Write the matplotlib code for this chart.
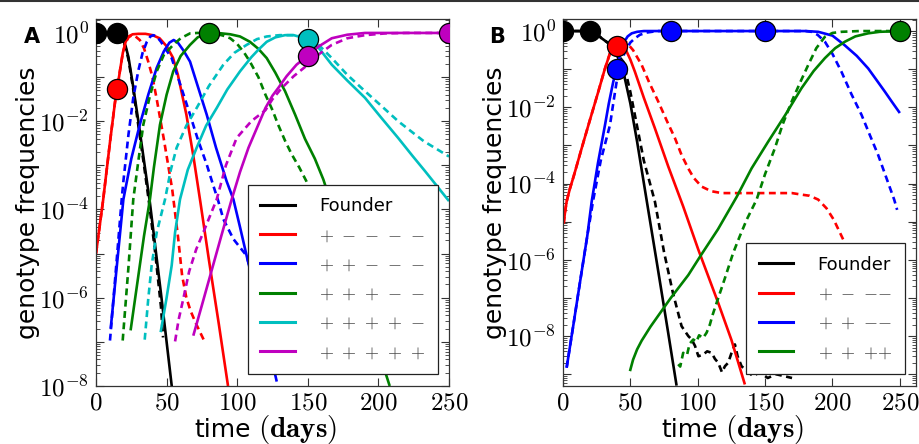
import numpy as np
import matplotlib
matplotlib.use("Agg")
import matplotlib.pyplot as plt
from matplotlib.ticker import LogLocator, FuncFormatter, NullFormatter, MultipleLocator
from matplotlib.lines import Line2D

plt.rcParams["mathtext.fontset"] = "cm"

# ---- panel A : five-locus model (log10 of genotype frequency) ----
a_founder_t = [0, 10, 15, 17, 19, 21, 23, 26, 30, 34, 38, 42, 46, 50, 54]
a_founder = [0, 0, -0.01, -0.05, -0.15, -0.3, -0.55, -1.15, -2.0, -2.9, -3.8, -4.85, -5.9, -7.0, -8.1]
a_founder_d_t = [0, 10, 15, 17, 19, 21, 23, 26, 30, 34, 38, 42, 46, 47.5]
a_founder_d = [0, 0, -0.01, -0.05, -0.16, -0.34, -0.6, -1.2, -2.1, -3.0, -3.95, -5.0, -6.2, -6.9]

a_red_t = [0, 5, 10, 13.5, 15, 17, 19, 21, 23, 26, 30, 35, 40, 45, 50, 54.5, 58, 64, 69, 74, 80, 87, 93.5]
a_red = [-5.0, -3.8, -2.45, -1.56, -1.27, -0.85, -0.45, -0.2, -0.08, -0.03, -0.02, -0.02, -0.05,
         -0.12, -0.3, -0.56, -0.95, -1.85, -2.8, -3.85, -5.15, -6.6, -8.0]
a_red_d_t = [0, 5, 10, 13.5, 15, 17, 19, 21, 23, 25, 28, 31, 34, 37, 40, 43, 48, 54, 58, 61, 64, 67, 71, 74, 77]
a_red_d = [-5.0, -3.8, -2.45, -1.56, -1.27, -0.85, -0.45, -0.22, -0.1, -0.06, -0.08, -0.16, -0.35,
           -0.65, -1.0, -1.5, -2.4, -3.55, -4.6, -5.5, -6.0, -6.3, -6.6, -6.8, -7.0]

a_blue_t = [10.4, 15, 19.4, 25, 31, 37, 43, 48, 52, 55, 58, 62, 66.6, 72, 78.4, 85, 92.5, 97.3,
            102, 106.7, 115, 122, 128]
a_blue = [-6.7, -5.2, -3.77, -2.85, -2.08, -1.4, -0.79, -0.42, -0.22, -0.16, -0.22, -0.4, -0.65,
          -1.2, -1.85, -2.6, -3.36, -3.77, -4.4, -5.05, -6.15, -7.05, -7.9]
a_blue_d_t = [9.9, 14, 18.2, 19.4, 23, 26.4, 30, 33, 36, 38.5, 40.6, 43, 46, 50, 53.6, 60, 66.6,
              72, 78.4, 83, 86.6, 90.2, 97.3, 106.7, 112]
a_blue_d = [-6.97, -5.4, -3.77, -3.36, -2.3, -1.47, -0.85, -0.45, -0.2, -0.08, -0.05, -0.08, -0.2,
            -0.4, -0.57, -1.2, -1.85, -2.4, -2.98, -3.45, -3.81, -4.22, -4.67, -5.05, -5.7]

a_green_t = [24.5, 30, 34, 38.2, 41, 45.3, 50, 54.7, 60, 66.6, 72, 79.5, 86, 95, 102, 109, 115,
             120.9, 127, 133.9, 141, 148, 155, 161, 170, 180, 190, 200, 208]
a_green = [-6.74, -5.5, -4.6, -3.77, -3.05, -2.08, -1.4, -0.87, -0.52, -0.27, -0.1, 0.0, 0.0,
           -0.03, -0.08, -0.2, -0.36, -0.57, -0.9, -1.32, -1.85, -2.4, -2.85, -3.32, -4.2, -5.2,
           -6.2, -7.2, -8.0]
a_green_d_t = [18.9, 23, 26.4, 30, 33.5, 38, 43, 48, 54.7, 60, 66.6, 72, 78, 85, 90, 95, 100, 105,
               109, 115, 120, 125, 129, 134, 138.6, 144, 149, 160, 170]
a_green_d = [-6.97, -5.3, -3.77, -2.9, -2.08, -1.45, -0.87, -0.5, -0.27, -0.12, -0.01, 0.0, 0.0,
             -0.02, -0.06, -0.12, -0.25, -0.45, -0.65, -1.0, -1.4, -1.75, -2.08, -2.45, -2.75,
             -3.05, -3.36, -4.2, -5.0]

a_cyan_t = [45.8, 50, 53.6, 56, 59.5, 65, 71.3, 78, 85.5, 93, 102, 110, 115, 120.9, 127, 133.9,
            140, 150, 158, 167, 178, 190.5, 202, 214, 224, 233, 241, 250]
a_cyan = [-6.78, -6.0, -5.27, -4.52, -3.77, -3.1, -2.6, -2.1, -1.7, -1.28, -0.87, -0.55, -0.38,
          -0.2, -0.1, -0.05, -0.05, -0.14, -0.35, -0.72, -1.08, -1.47, -1.92, -2.38, -2.78,
          -3.13, -3.45, -3.81]
a_cyan_d_t = [34.5, 37, 39.4, 43, 48.9, 53, 57.1, 64, 71.3, 80, 90.2, 98, 106.7, 114, 120.9, 130,
              140, 150, 158, 167, 178, 190.5, 202, 214, 232, 250]
a_cyan_d = [-6.95, -6.03, -5.27, -4.52, -3.77, -3.1, -2.6, -2.1, -1.7, -1.2, -0.72, -0.45, -0.27,
            -0.14, -0.08, -0.05, -0.05, -0.1, -0.28, -0.57, -0.95, -1.32, -1.65, -2.0, -2.45, -2.8]

a_mag_t = [68.9, 75, 82, 89, 96.1, 102, 108, 114, 120, 125, 129, 135, 142, 150, 158, 167, 178,
           190.5, 205, 220, 250]
a_mag = [-6.86, -6.17, -5.37, -4.57, -3.77, -3.15, -2.6, -2.15, -1.7, -1.42, -1.25, -0.98, -0.72,
         -0.51, -0.3, -0.12, -0.04, 0.0, 0.0, 0.0, 0.0]
a_mag_d_t = [56, 58.5, 61.8, 66, 71, 76, 85.5, 92, 99.6, 110, 120, 125, 131.5, 140, 150, 158, 167,
             178, 190.5, 205, 220, 250]
a_mag_d = [-6.99, -6.5, -6.03, -5.4, -4.9, -4.52, -3.77, -3.0, -2.38, -2.0, -1.75, -1.5, -1.25,
           -0.98, -0.72, -0.48, -0.27, -0.12, -0.05, -0.01, 0.0, 0.0]

a_dot_t = [0, 15, 15, 80, 150, 150, 250]
a_dot = [0, 0, -1.27, 0, -0.14, -0.53, 0]
a_dot_colors = ["k", "k", "r", "g", "c", "m", "m"]

a_labels = ["Founder", r"$+\;\;{-}\;\;{-}\;\;{-}\;\;{-}$", r"$+\;\;{+}\;\;{-}\;\;{-}\;\;{-}$",
            r"$+\;\;{+}\;\;{+}\;\;{-}\;\;{-}$", r"$+\;\;{+}\;\;{+}\;\;{+}\;\;{-}$",
            r"$+\;\;{+}\;\;{+}\;\;{+}\;\;{+}$"]

# ---- panel B : four-locus model ----
b_founder_t = [0, 10, 20, 25, 28.7, 33, 37.3, 40, 45, 50, 55, 62, 70, 78, 84.3]
b_founder = [0, 0, 0, -0.08, -0.19, -0.3, -0.45, -0.62, -1.1, -1.9, -2.9, -4.42, -6.15, -7.9, -9.3]
b_founder_d_t = [0, 10, 20, 25, 28.7, 33, 37.3, 40, 44.7, 50, 55, 60, 68.2, 75, 81.6, 88, 93, 95.5,
                 98, 100.5, 104.2, 107, 110.3, 112.8, 115.2, 118, 120.2, 122.6, 125, 127.6, 129.6,
                 132.5, 136, 141, 146, 152, 158, 164, 170]
b_founder_d = [0, 0, 0, -0.08, -0.19, -0.3, -0.45, -0.6, -0.8, -1.6, -2.5, -3.4, -4.47, -5.8, -6.87,
               -7.74, -8.0, -8.09, -8.26, -8.53, -8.48, -8.4, -8.44, -8.6, -8.7, -8.95, -8.79,
               -8.7, -8.45, -8.22, -8.53, -8.79, -8.9, -9.05, -8.95, -9.1, -9.0, -9.05, -9.1]

b_red_t = [0.5, 1.5, 2.7, 5, 8, 13.9, 20, 26.2, 31, 34.9, 38, 40, 43.5, 47, 50, 53.4, 60, 68.2,
           78.1, 89.2, 100.4, 115.2, 125, 135]
b_red = [-5.05, -4.75, -4.47, -4.15, -3.8, -3.07, -2.33, -1.59, -1.0, -0.58, -0.42, -0.38, -0.37,
         -0.52, -0.75, -1.07, -1.75, -2.55, -3.55, -4.6, -5.73, -7.13, -8.1, -9.27]
b_red_d_t = [0.5, 1.5, 2.7, 5, 8, 13.9, 20, 26.2, 31, 34.9, 38, 41, 44, 47.2, 52, 58.4, 64, 70.7,
             77, 83.1, 88, 92.9, 97, 102.9, 110, 117.7, 130, 150, 170, 177, 183, 189.4, 195.6,
             201, 208]
b_red_d = [-5.05, -4.75, -4.47, -4.15, -3.8, -3.07, -2.33, -1.59, -1.0, -0.58, -0.4, -0.3, -0.26,
           -0.3, -0.5, -0.89, -1.35, -1.85, -2.35, -2.81, -3.25, -3.6, -3.85, -4.08, -4.2, -4.25,
           -4.25, -4.25, -4.25, -4.29, -4.32, -4.42, -4.65, -4.95, -5.47]

b_blue_t = [2.7, 8, 13, 18, 21.3, 26, 31.2, 34, 37.3, 39.8, 41.5, 43.5, 46, 48, 51, 55, 60, 80,
            150, 180, 189.4, 200, 209, 218, 226.5, 232, 238.9, 244, 250]
b_blue = [-8.83, -7.64, -6.5, -5.38, -4.47, -3.45, -2.46, -1.9, -1.33, -0.99, -0.75, -0.45, -0.25,
          -0.14, -0.06, -0.02, 0, 0, 0, 0, -0.02, -0.12, -0.37, -0.65, -0.98, -1.25, -1.59,
          -1.85, -2.15]
b_blue_d_t = [2.7, 8, 13, 18, 22.5, 28, 34.9, 37.5, 39.8, 42.5, 46, 50, 53.4, 57, 62, 70, 150,
              180, 184.5, 189, 194.4, 200, 206.7, 214, 221.6, 228, 233.9, 240, 245.8, 248]
b_blue_d = [-8.83, -7.64, -6.5, -5.38, -4.42, -3.4, -2.46, -1.85, -1.33, -0.9, -0.54, -0.3, -0.19,
            -0.1, -0.04, 0, 0, 0, -0.02, -0.1, -0.28, -0.6, -1.07, -1.65, -2.2, -2.75, -3.25,
            -3.85, -4.42, -4.69]

b_green_t = [49.7, 52, 55, 58.4, 65, 72, 80, 93, 102, 115, 128.9, 140, 152.3, 165, 177, 186,
             194.4, 202, 209.2, 217, 226.5, 235, 250]
b_green = [-8.92, -8.62, -8.35, -8.12, -7.75, -7.4, -7.0, -6.4, -5.9, -5.2, -4.35, -3.6, -2.9,
           -2.2, -1.5, -1.05, -0.71, -0.45, -0.28, -0.14, -0.06, -0.02, 0.0]
b_green_d_t = [85.5, 87, 89.2, 92, 94, 96.7, 99, 101, 104, 106.6, 109, 111, 114, 120, 126.3, 131,
               136.3, 143.7, 150, 157.3, 163, 169.7, 176, 182, 188, 194.4, 200, 206.7, 220, 250]
b_green_d = [-8.74, -8.8, -8.44, -8.5, -8.2, -8.09, -8.15, -7.98, -8.05, -7.91, -7.7, -7.45, -7.13,
             -6.5, -5.82, -5.4, -4.95, -4.42, -3.75, -3.07, -2.45, -1.85, -1.35, -0.89, -0.45,
             -0.15, -0.05, -0.02, 0, 0]

b_dot_t = [0, 20, 40, 40, 80, 150, 250]
b_dot = [0, 0, -0.39, -0.99, 0, 0, 0]
b_dot_colors = ["k", "k", "r", "b", "b", "b", "g"]

b_labels = ["Founder", r"$+\;\;{-}\;\;{-}{-}$", r"$+\;\;{+}\;\;{-}{-}$", r"$+\;\;{+}\;\;{+}{+}$"]

DASH = (0, (2.6, 1.7))
LW = 1.9


def curve(ax, t, logf, color, dashed=False):
    ax.plot(t, np.power(10.0, logf), color=color, lw=LW, ls=DASH if dashed else "-",
            solid_capstyle="butt")


def style(ax, xmax, ymin, labels, colors):
    ax.set_yscale("log")
    ax.set_xlim(0, xmax)
    ax.set_ylim(ymin, 2.07)
    ax.xaxis.set_major_locator(MultipleLocator(50))
    ax.xaxis.set_major_formatter(FuncFormatter(lambda v, p: r"$%d$" % v))
    ax.yaxis.set_major_locator(LogLocator(base=10, numticks=20))
    ax.yaxis.set_minor_locator(LogLocator(base=10, subs=np.arange(2, 10), numticks=20))
    ax.yaxis.set_minor_formatter(NullFormatter())
    ax.yaxis.set_major_formatter(FuncFormatter(
        lambda v, p: r"$10^{%d}$" % round(np.log10(v)) if round(np.log10(v)) % 2 == 0 else ""))
    ax.tick_params(which="both", direction="in", top=True, right=True, labelsize=18, pad=5,
                   color="#333333")
    ax.tick_params(axis="x", pad=3)
    ax.tick_params(which="major", length=6, width=0.8)
    ax.tick_params(which="minor", length=3, width=0.6)
    for s in ax.spines.values():
        s.set_color("#333333")
        s.set_linewidth(0.9)
    # x label: sans "time" followed by a larger serif "(days)"
    ax.text(0.438, -0.138, "time", transform=ax.transAxes, fontsize=18, ha="right",
            va="baseline")
    ax.text(0.458, -0.138, r"$\mathbf{(days)}$", transform=ax.transAxes, fontsize=21,
            ha="left", va="baseline")
    ax.set_ylabel("genotype frequencies", fontsize=18)
    ax.yaxis.set_label_coords(-0.158, 0.5)
    handles = [Line2D([], [], color=c, lw=2.2) for c in colors]
    leg = ax.legend(handles, labels, loc="lower right", bbox_to_anchor=(0.969, 0.033),
                    borderaxespad=0, fontsize=13, frameon=True, fancybox=False,
                    framealpha=1, edgecolor="#222222", handlelength=1.9, handletextpad=1.35,
                    labelspacing=0.62, borderpad=0.7)
    leg.get_frame().set_linewidth(0.9)
    for txt in leg.get_texts()[1:]:
        txt.set_color("#444444")


fig = plt.figure(figsize=(9.19, 4.44), dpi=100)
axA = fig.add_axes([96 / 919, 58 / 444, 353 / 919, 367 / 444])
axB = fig.add_axes([563 / 919, 58 / 444, 353 / 919, 367 / 444])

# panel A
curve(axA, a_founder_t, a_founder, "k")
curve(axA, a_founder_d_t, a_founder_d, "k", True)
curve(axA, a_red_t, a_red, "r")
curve(axA, a_red_d_t, a_red_d, "r", True)
curve(axA, a_blue_t, a_blue, "b")
curve(axA, a_blue_d_t, a_blue_d, "b", True)
curve(axA, a_green_t, a_green, "g")
curve(axA, a_green_d_t, a_green_d, "g", True)
curve(axA, a_cyan_t, a_cyan, "c")
curve(axA, a_cyan_d_t, a_cyan_d, "c", True)
curve(axA, a_mag_t, a_mag, "m")
curve(axA, a_mag_d_t, a_mag_d, "m", True)
for t, f, c in zip(a_dot_t, a_dot, a_dot_colors):
    axA.plot(t, 10.0 ** f, "o", color=c, ms=14.5, mec="k", mew=0.9, zorder=5)
style(axA, 250, 1e-8, a_labels, ["k", "r", "b", "g", "c", "m"])

# panel B
curve(axB, b_founder_t, b_founder, "k")
curve(axB, b_founder_d_t, b_founder_d, "k", True)
curve(axB, b_red_t, b_red, "r")
curve(axB, b_red_d_t, b_red_d, "r", True)
curve(axB, b_blue_t, b_blue, "b")
curve(axB, b_blue_d_t, b_blue_d, "b", True)
curve(axB, b_green_t, b_green, "g")
curve(axB, b_green_d_t, b_green_d, "g", True)
for t, f, c in zip(b_dot_t, b_dot, b_dot_colors):
    axB.plot(t, 10.0 ** f, "o", color=c, ms=14.5, mec="k", mew=0.9, zorder=5)
style(axB, 262, 4.9e-10, b_labels, ["k", "r", "b", "g"])

fig.text(32 / 919, 1 - 37 / 444, "A", fontsize=15, fontweight="bold", ha="center", va="center")
fig.text(497 / 919, 1 - 37 / 444, "B", fontsize=15, fontweight="bold", ha="center", va="center")
fig.add_artist(Line2D([0, 1], [0.998, 0.998], color="#333333", lw=1.5))

fig.savefig("out.png", dpi=100)
